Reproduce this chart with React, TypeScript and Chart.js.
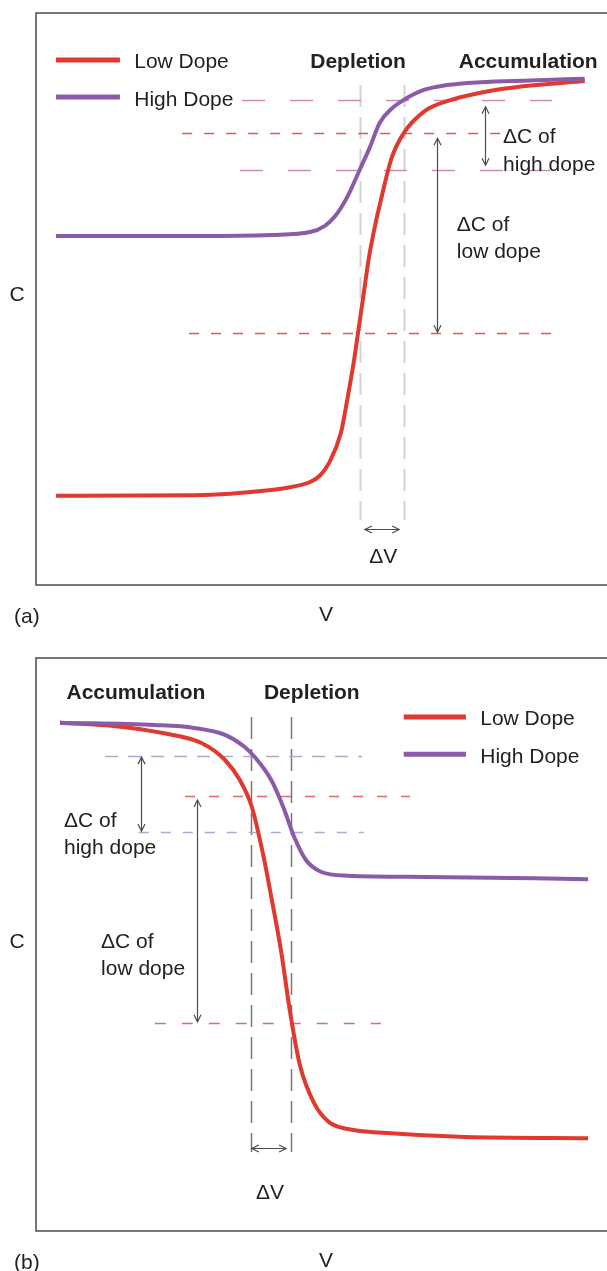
import { useEffect, useRef } from "react";
import { Chart, registerables } from "chart.js";

Chart.register(...registerables);

const FONT = '"Liberation Sans", Arial, Helvetica, sans-serif';
const RED = "#e0392e";
const PURPLE = "#8c5ba8";
const FS = 21;

// ---------- Panel (a): C rises with V ----------
const A_LOW_V = [-4.65, -2.23, -0.88, -0.55, -0.2, -0.03, 0.13, 0.34, 0.46, 0.57, 0.64, 0.73, 0.83, 0.94, 1.04, 1.23, 1.44, 1.83, 2.2, 2.85, 3.53, 4.61];
const A_LOW_C = [0.156, 0.157, 0.166, 0.171, 0.18, 0.191, 0.213, 0.266, 0.329, 0.393, 0.441, 0.503, 0.572, 0.629, 0.673, 0.747, 0.79, 0.83, 0.846, 0.862, 0.872, 0.881];
const A_HIGH_V = [-4.65, -3.0, -2.13, -0.88, -0.2, 0.06, 0.24, 0.45, 0.67, 0.85, 1.02, 1.22, 1.44, 1.78, 2.2, 2.78, 3.65, 4.61];
const A_HIGH_C = [0.61, 0.61, 0.61, 0.612, 0.617, 0.628, 0.645, 0.678, 0.726, 0.766, 0.808, 0.832, 0.848, 0.865, 0.874, 0.879, 0.882, 0.885];

// ---------- Panel (b): C falls with V ----------
const B_LOW_V = [-4.58, -3.6, -2.78, -2.11, -1.69, -1.43, -1.22, -1.02, -0.87, -0.71, -0.55, -0.38, -0.13, 0.13, 0.46, 1.15, 2.51, 4.67];
const B_LOW_C = [0.887, 0.881, 0.869, 0.852, 0.822, 0.787, 0.74, 0.656, 0.578, 0.49, 0.382, 0.29, 0.223, 0.19, 0.178, 0.171, 0.164, 0.162];
const B_HIGH_V = [-4.58, -2.92, -2.23, -1.69, -1.36, -1.15, -0.88, -0.67, -0.48, -0.27, -0.01, 0.46, 1.83, 4.67];
const B_HIGH_C = [0.887, 0.883, 0.878, 0.866, 0.846, 0.825, 0.787, 0.74, 0.688, 0.647, 0.627, 0.62, 0.618, 0.614];

const SERIES_LABELS = ["Low Dope", "High Dope"];

// Reference levels (C) and spans (V) of the dashed guide lines
const A_HLINES = [
  { kind: "highA", c: 0.848, v0: -1.39, v1: 4.04 },
  { kind: "lowA", c: 0.79, v0: -2.44, v1: 3.18 },
  { kind: "highA", c: 0.726, v0: -1.43, v1: 4.0 },
  { kind: "lowA", c: 0.441, v0: -2.32, v1: 4.12 },
];
const A_VLINES = [
  { v: 0.67, c0: 0.874, c1: 0.114 },
  { v: 1.44, c0: 0.874, c1: 0.114 },
];
const A_ARROWS = [
  { v: 2.86, c0: 0.836, c1: 0.734 },
  { v: 2.02, c0: 0.781, c1: 0.442 },
];
const A_DV = { v0: 0.76, v1: 1.36, c: 0.098 };

const B_HLINES = [
  { kind: "highB", c: 0.829, v0: -3.79, v1: 0.71 },
  { kind: "lowB", c: 0.759, v0: -2.39, v1: 1.55 },
  { kind: "highB2", c: 0.696, v0: -3.2, v1: 0.74 },
  { kind: "lowB2", c: 0.363, v0: -2.92, v1: 1.04 },
];
const B_VLINES = [
  { v: -1.23, c0: 0.897, c1: 0.138 },
  { v: -0.53, c0: 0.897, c1: 0.138 },
];
const B_ARROWS = [
  { v: -3.16, c0: 0.827, c1: 0.698 },
  { v: -2.18, c0: 0.752, c1: 0.365 },
];
const B_DV = { v0: -1.22, v1: -0.62, c: 0.145 };

const HSTYLE: Record<string, { color: string; dash: number[]; width: number }> = {
  highA: { color: "#c98cbf", dash: [23, 25], width: 1.5 },
  lowA: { color: "#de5a50", dash: [10, 12], width: 1.3 },
  highB: { color: "#b9a2cf", dash: [13, 10], width: 1.5 },
  highB2: { color: "#b9a2cf", dash: [10, 12], width: 1.5 },
  lowB: { color: "#de6a60", dash: [10, 14], width: 1.3 },
  lowB2: { color: "#dd6e66", dash: [11, 16], width: 1.3 },
};

type Txt = { t: string; v: number; c: number; align: CanvasTextAlign; bold?: boolean };

const A_TEXT: Txt[] = [
  { t: "Depletion", v: 0.64, c: 0.914, align: "center", bold: true },
  { t: "Accumulation", v: 3.62, c: 0.914, align: "center", bold: true },
  { t: "\u0394C of", v: 3.18, c: 0.783, align: "left" },
  { t: "high dope", v: 3.18, c: 0.734, align: "left" },
  { t: "\u0394C of", v: 2.37, c: 0.629, align: "left" },
  { t: "low dope", v: 2.37, c: 0.582, align: "left" },
  { t: "\u0394V", v: 1.08, c: 0.049, align: "center" },
];
const B_TEXT: Txt[] = [
  { t: "Accumulation", v: -3.25, c: 0.939, align: "center", bold: true },
  { t: "Depletion", v: -0.17, c: 0.939, align: "center", bold: true },
  { t: "\u0394C of", v: -4.51, c: 0.716, align: "left" },
  { t: "high dope", v: -4.51, c: 0.668, align: "left" },
  { t: "\u0394C of", v: -3.86, c: 0.504, align: "left" },
  { t: "low dope", v: -3.86, c: 0.457, align: "left" },
  { t: "\u0394V", v: -0.9, c: 0.066, align: "center" },
];

const A_LEGEND = { v0: -4.65, v1: -3.53, vt: -3.28, c: [0.918, 0.853], ct: [0.914, 0.848] };
const B_LEGEND = { v0: 1.44, v1: 2.53, vt: 2.78, c: [0.897, 0.832], ct: [0.894, 0.827] };

type Spec = {
  tag: string;
  hlines: typeof A_HLINES;
  vlines: typeof A_VLINES;
  vcolor: string;
  vdash: number[];
  vwidth: number;
  arrows: typeof A_ARROWS;
  dv: typeof A_DV;
  texts: Txt[];
  legend: typeof A_LEGEND;
  cLabelC: number;
};

function head(ctx: CanvasRenderingContext2D, x: number, y: number, dx: number, dy: number) {
  const L = 7;
  const W = 3.5;
  ctx.beginPath();
  ctx.moveTo(x - dx * L - dy * W, y - dy * L + dx * W);
  ctx.lineTo(x, y);
  ctx.lineTo(x - dx * L + dy * W, y - dy * L - dx * W);
  ctx.stroke();
}

function makePlugin(spec: Spec) {
  return {
    id: "annot" + spec.tag,
    beforeDatasetsDraw(chart: any) {
      const { ctx, scales } = chart;
      const xs = scales.x;
      const ys = scales.y;
      ctx.save();
      for (const l of spec.vlines) {
        ctx.strokeStyle = spec.vcolor;
        ctx.lineWidth = spec.vwidth;
        ctx.setLineDash(spec.vdash);
        const x = Math.round(xs.getPixelForValue(l.v)) + 0.5;
        ctx.beginPath();
        ctx.moveTo(x, ys.getPixelForValue(l.c0));
        ctx.lineTo(x, ys.getPixelForValue(l.c1));
        ctx.stroke();
      }
      for (const h of spec.hlines) {
        const st = HSTYLE[h.kind];
        ctx.strokeStyle = st.color;
        ctx.lineWidth = st.width;
        ctx.setLineDash(st.dash);
        const y = Math.round(ys.getPixelForValue(h.c)) + 0.5;
        ctx.beginPath();
        ctx.moveTo(xs.getPixelForValue(h.v0), y);
        ctx.lineTo(xs.getPixelForValue(h.v1), y);
        ctx.stroke();
      }
      ctx.restore();
    },
    afterDatasetsDraw(chart: any) {
      const { ctx, scales, chartArea } = chart;
      const xs = scales.x;
      const ys = scales.y;
      ctx.save();
      ctx.setLineDash([]);
      // frame
      ctx.strokeStyle = "#4a4a4a";
      ctx.lineWidth = 1.5;
      ctx.beginPath();
      ctx.moveTo(chartArea.right + 2, chartArea.top);
      ctx.lineTo(chartArea.left, chartArea.top);
      ctx.lineTo(chartArea.left, chartArea.bottom);
      ctx.lineTo(chartArea.right + 2, chartArea.bottom);
      ctx.stroke();

      // arrows
      ctx.strokeStyle = "#4d4d4d";
      ctx.lineWidth = 1.2;
      for (const a of spec.arrows) {
        const x = Math.round(xs.getPixelForValue(a.v)) + 0.5;
        const y0 = ys.getPixelForValue(a.c0);
        const y1 = ys.getPixelForValue(a.c1);
        ctx.beginPath();
        ctx.moveTo(x, y0);
        ctx.lineTo(x, y1);
        ctx.stroke();
        head(ctx, x, y0, 0, -1);
        head(ctx, x, y1, 0, 1);
      }
      {
        const y = Math.round(ys.getPixelForValue(spec.dv.c)) + 0.5;
        const x0 = xs.getPixelForValue(spec.dv.v0);
        const x1 = xs.getPixelForValue(spec.dv.v1);
        ctx.beginPath();
        ctx.moveTo(x0, y);
        ctx.lineTo(x1, y);
        ctx.stroke();
        head(ctx, x0, y, -1, 0);
        head(ctx, x1, y, 1, 0);
      }

      // texts
      ctx.fillStyle = "#222";
      ctx.textBaseline = "middle";
      for (const t of spec.texts) {
        ctx.font = `${t.bold ? "bold " : ""}${FS}px ${FONT}`;
        ctx.textAlign = t.align;
        ctx.fillText(t.t, xs.getPixelForValue(t.v), ys.getPixelForValue(t.c));
      }

      // legend
      const ds = chart.data.datasets;
      for (let i = 0; i < ds.length; i++) {
        const lg = spec.legend;
        ctx.strokeStyle = ds[i].borderColor;
        ctx.lineWidth = 5;
        const y = ys.getPixelForValue(lg.c[i]);
        ctx.beginPath();
        ctx.moveTo(xs.getPixelForValue(lg.v0), y);
        ctx.lineTo(xs.getPixelForValue(lg.v1), y);
        ctx.stroke();
        ctx.font = `${FS}px ${FONT}`;
        ctx.textAlign = "left";
        ctx.fillStyle = "#222";
        ctx.fillText(ds[i].label, xs.getPixelForValue(lg.vt), ys.getPixelForValue(lg.ct[i]));
      }

      // axis titles
      ctx.font = `${FS}px ${FONT}`;
      ctx.textAlign = "center";
      ctx.fillText("C", chartArea.left - 19, ys.getPixelForValue(spec.cLabelC));
      ctx.fillText("V", xs.getPixelForValue(0.08), chartArea.bottom + 30);
      ctx.textAlign = "left";
      ctx.fillText(spec.tag, chartArea.left - 22, chartArea.bottom + 32);
      ctx.restore();
    },
  };
}

function pts(v: number[], c: number[]) {
  return v.map((x, i) => ({ x, y: c[i] }));
}

function Panel(props: {
  top: number;
  height: number;
  padTop: number;
  padBottom: number;
  low: { x: number; y: number }[];
  high: { x: number; y: number }[];
  spec: Spec;
}) {
  const ref = useRef<HTMLCanvasElement>(null);
  useEffect(() => {
    const chart = new Chart(ref.current as HTMLCanvasElement, {
      type: "line",
      data: {
        datasets: [
          {
            label: SERIES_LABELS[0],
            data: props.low,
            borderColor: RED,
            borderWidth: 4,
            pointRadius: 0,
            cubicInterpolationMode: "monotone",
            fill: false,
            order: 1,
          },
          {
            label: SERIES_LABELS[1],
            data: props.high,
            borderColor: PURPLE,
            borderWidth: 4,
            pointRadius: 0,
            cubicInterpolationMode: "monotone",
            fill: false,
            order: 0,
          },
        ],
      },
      options: {
        animation: false,
        responsive: false,
        devicePixelRatio: 1,
        layout: { padding: { left: 36, right: 0, top: props.padTop, bottom: props.padBottom } },
        scales: {
          x: { type: "linear", min: -5, max: 5, display: false },
          y: { type: "linear", min: 0, max: 1, display: false },
        },
        plugins: { legend: { display: false }, tooltip: { enabled: false } },
      },
      plugins: [makePlugin(props.spec) as any],
    });
    return () => chart.destroy();
  }, []);
  return (
    <canvas
      ref={ref}
      width={607}
      height={props.height}
      style={{ position: "absolute", left: 0, top: props.top, width: 607, height: props.height, display: "block" }}
    />
  );
}

const SPEC_A: Spec = {
  tag: "(a)",
  hlines: A_HLINES,
  vlines: A_VLINES,
  vcolor: "#d2d2d2",
  vdash: [22, 10],
  vwidth: 2,
  arrows: A_ARROWS,
  dv: A_DV,
  texts: A_TEXT,
  legend: A_LEGEND,
  cLabelC: 0.507,
};
const SPEC_B: Spec = {
  tag: "(b)",
  hlines: B_HLINES,
  vlines: B_VLINES,
  vcolor: "#777777",
  vdash: [22, 10],
  vwidth: 1.5,
  arrows: B_ARROWS,
  dv: B_DV,
  texts: B_TEXT,
  legend: B_LEGEND,
  cLabelC: 0.504,
};

export default function App() {
  return (
    <div style={{ position: "absolute", left: 0, top: 0, width: 607, height: 1271, background: "#fff" }}>
      <Panel top={0} height={640} padTop={13} padBottom={55} low={pts(A_LOW_V, A_LOW_C)} high={pts(A_HIGH_V, A_HIGH_C)} spec={SPEC_A} />
      <Panel top={640} height={631} padTop={18} padBottom={40} low={pts(B_LOW_V, B_LOW_C)} high={pts(B_HIGH_V, B_HIGH_C)} spec={SPEC_B} />
    </div>
  );
}
